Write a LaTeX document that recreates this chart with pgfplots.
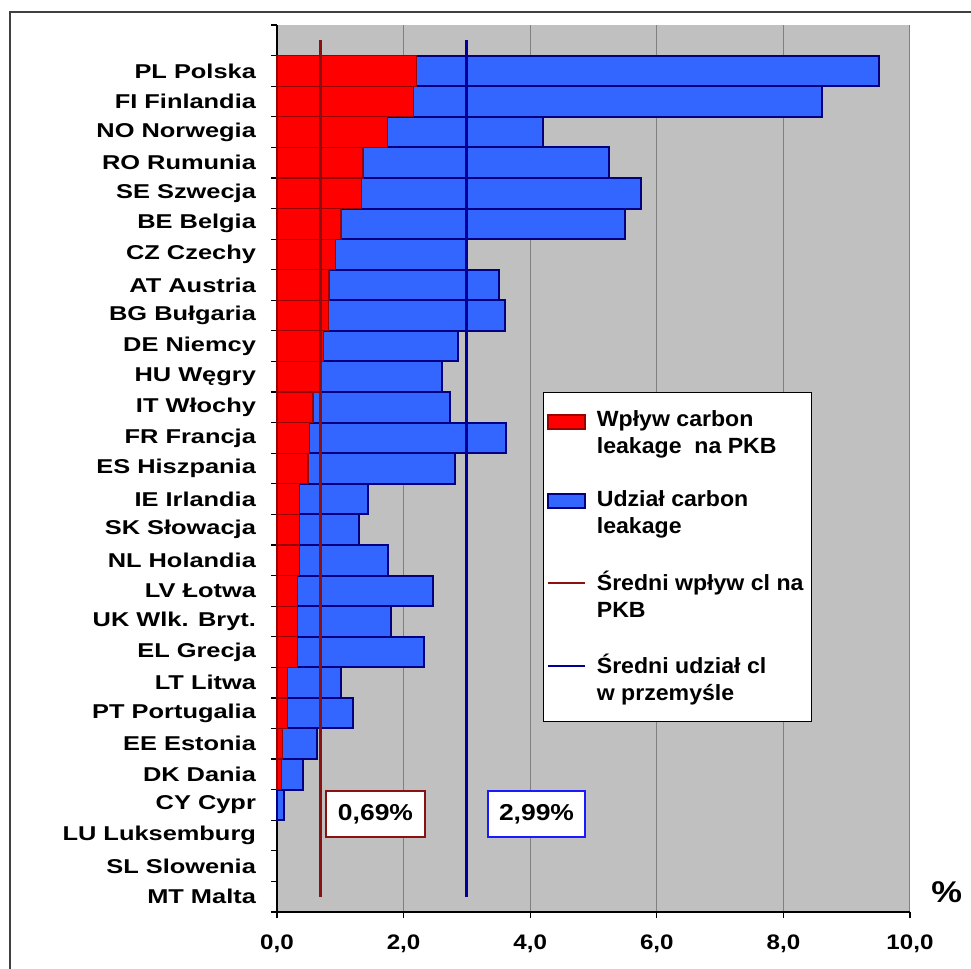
\documentclass[border=0pt]{standalone}
\usepackage{fontspec}
\setmainfont{Liberation Sans}[FakeStretch=1.15]
\newfontfamily\widefont{Liberation Sans}[FakeStretch=1.27]
\newfontfamily\legfont{Liberation Sans}[FakeStretch=1.05]
\usepackage{pgfplots}
\pgfplotsset{compat=1.18}

\definecolor{barblue}{HTML}{3366FF}
\definecolor{navy}{HTML}{000080}
\definecolor{barred}{HTML}{FF0000}
\definecolor{rededge}{HTML}{990000}
\definecolor{meanred}{HTML}{8B1111}
\definecolor{meanblue}{HTML}{000099}
\definecolor{plotbg}{HTML}{C0C0C0}
\definecolor{gridgray}{HTML}{808080}
\definecolor{boxblue}{HTML}{1A1AFF}

% udzial carbon leakage (niebieskie), y = numer kraju od gory
\pgfplotstableread{
y  val
1  9.51
2  8.61
3  4.20
4  5.24
5  5.75
6  5.50
7  3.00
8  3.51
9  3.60
10 2.86
11 2.61
12 2.73
13 3.62
14 2.81
15 1.44
16 1.30
17 1.75
18 2.46
19 1.80
20 2.32
21 1.01
22 1.20
23 0.63
24 0.41
25 0.11
}\udzial

% wplyw carbon leakage na PKB (czerwone)
\pgfplotstableread{
y  val
1  2.21
2  2.16
3  1.75
4  1.36
5  1.34
6  1.01
7  0.92
8  0.82
9  0.81
10 0.73
11 0.68
12 0.57
13 0.51
14 0.49
15 0.35
16 0.35
17 0.35
18 0.32
19 0.32
20 0.32
21 0.17
22 0.17
23 0.09
24 0.07
}\wplyw

\begin{document}
\begin{tikzpicture}
\useasboundingbox (-138.5pt,-28.5pt) rectangle (347pt,456pt);
\draw[line width=1pt, black!75] (-133.5pt,-40pt) -- (-133.5pt,450pt) -- (360pt,450pt);
\begin{axis}[
  at={(0,0)}, anchor=south west,
  scale only axis, width=316.5pt, height=443.5pt,
  clip=false,
  bar width=1,
  xmin=0, xmax=10, ymin=-0.5, ymax=28.5, y dir=reverse,
  axis background/.style={fill=plotbg},
  axis x line*=bottom, axis y line*=left,
  axis line style={black, line width=0.6pt},
  xtick={0,2,...,10},
  xmajorgrids, grid style={gridgray, line width=0.5pt},
  ytick={-0.5,0.5,...,28.5},
  y tick label as interval,
  yticklabels={{},PL Polska,FI Finlandia,NO Norwegia,RO Rumunia,SE Szwecja,BE Belgia,CZ Czechy,AT Austria,BG Bułgaria,DE Niemcy,HU Węgry,IT Włochy,FR Francja,ES Hiszpania,IE Irlandia,SK Słowacja,NL Holandia,LV Łotwa,UK Wlk. Bryt.,EL Grecja,LT Litwa,PT Portugalia,EE Estonia,DK Dania,CY Cypr,LU Luksemburg,SL Slowenia,MT Malta},
  tick align=outside, major tick length=3pt,
  tick style={black, line width=0.6pt},
  /pgf/number format/assume math mode=true,
  x tick label style={/pgf/number format/fixed, /pgf/number format/fixed zerofill,
    /pgf/number format/precision=1, /pgf/number format/use comma,
    font=\bfseries\fontsize{10.5}{12}\selectfont, yshift=-5pt},
  y tick label style={font=\widefont\bfseries\fontsize{10}{12}\selectfont, xshift=-4pt},
  legend style={at={(0.42,0.586)}, anchor=north west, draw=black, line width=0.5pt,
    fill=white, inner xsep=2pt, inner ysep=7pt, row sep=13pt,
    font=\legfont\bfseries\fontsize{11}{13.5}\selectfont,
    cells={align=left, anchor=west}},
  legend cell align=left,
]
\addplot[xbar, bar shift=0pt, fill=barblue, draw=navy, line width=1pt, forget plot]
  table[x=val, y=y] {\udzial};
\addplot[xbar, bar shift=0pt, fill=barred, draw=rededge, line width=0.6pt, forget plot]
  table[x=val, y=y] {\wplyw};
\addplot[meanred, line width=1.5pt, forget plot] coordinates {(0.69,0) (0.69,28)};
\addplot[meanblue, line width=1.5pt, forget plot] coordinates {(2.99,0) (2.99,28)};

\addlegendimage{legend image code/.code={\draw[fill=barred, draw=rededge, line width=1pt] (0pt,2.6pt) rectangle (18.5pt,9.6pt); \path (22pt,6pt);}}
\addlegendimage{legend image code/.code={\draw[fill=barblue, draw=navy, line width=1pt] (0pt,2.6pt) rectangle (18.5pt,9.6pt); \path (22pt,6pt);}}
\addlegendimage{legend image code/.code={\draw[meanred, line width=1pt] (0pt,6.2pt) -- (18.5pt,6.2pt); \path (22pt,6pt);}}
\addlegendimage{legend image code/.code={\draw[meanblue, line width=1pt] (0pt,6.2pt) -- (18.5pt,6.2pt); \path (22pt,6pt);}}
\legend{{Wpływ carbon\\leakage\ \ na PKB}, {Udział carbon\\leakage}, {Średni wpływ cl na\\PKB}, {Średni udział cl\\w przemyśle}}

\node[draw=meanred, line width=1.2pt, fill=white, minimum width=49.5pt, minimum height=23pt,
  font=\bfseries\fontsize{11.5}{13}\selectfont] at (axis cs:1.556,25.3) {0,69\%};
\node[draw=boxblue, line width=1.2pt, fill=white, minimum width=48.5pt, minimum height=23pt,
  font=\bfseries\fontsize{11.5}{13}\selectfont] at (axis cs:4.10,25.3) {2,99\%};
\node[font=\bfseries\fontsize{15}{18}\selectfont] at (axis description cs:1.058,0.0225) {\%};
\end{axis}
\end{tikzpicture}
\end{document}
